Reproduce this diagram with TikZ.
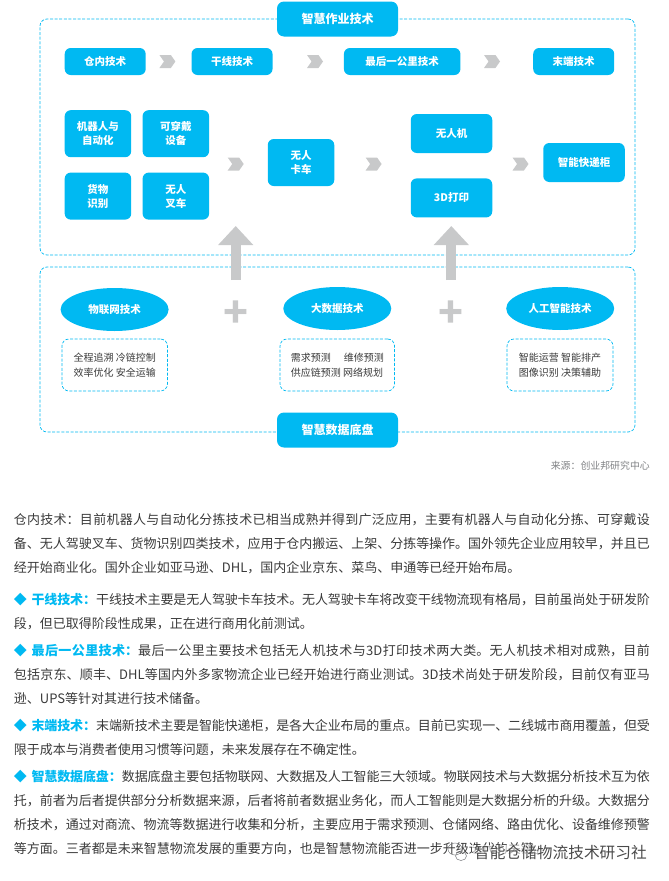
\documentclass[tikz,border=0pt]{standalone}
\usepackage{fontspec}
\usetikzlibrary{arrows.meta,positioning,shapes.geometric,shapes.symbols}
\setmainfont{Noto Sans CJK SC}
\XeTeXlinebreaklocale "zh"
\XeTeXlinebreakskip=0pt plus 1.5pt minus 0.4pt
\tolerance=9999
\definecolor{skyblue}{HTML}{00B9F2}
\definecolor{markgrey}{HTML}{C8C9CA}
\definecolor{sourcegrey}{HTML}{808285}
\definecolor{bodyink}{HTML}{3A3A3A}
\definecolor{stampink}{HTML}{4A4A4A}
\newcommand{\headbullet}[1]{{\color{skyblue}\bfseries ◆\hspace{4.7pt}#1：}}

\begin{document}
\begin{tikzpicture}[
  x=1pt, y=-1pt,
  >=Stealth,
  titlebox/.style={
    fill=skyblue, text=white, rounded corners=7pt, inner sep=0pt,
    minimum width=121pt, minimum height=35pt,
    font=\fontsize{12}{14}\selectfont\bfseries
  },
  techbox/.style 2 args={
    fill=skyblue, text=white, rounded corners=6pt, inner sep=0pt, align=center,
    minimum width=#1, minimum height=#2,
    font=\fontsize{10.5}{14}\selectfont\bfseries
  },
  techoval/.style={
    ellipse, fill=skyblue, text=white, inner sep=0pt,
    minimum width=108pt, minimum height=43pt,
    font=\fontsize{10.5}{14}\selectfont\bfseries
  },
  dashframe/.style 2 args={
    draw=skyblue, dashed, dash pattern=on 3pt off 1.6pt, line width=0.7pt,
    rounded corners=7pt, inner sep=0pt,
    minimum width=#1, minimum height=#2
  },
  listbox/.style={
    dashframe={#1}{52pt}, text=bodyink, align=left,
    font=\fontsize{10}{15.5}\selectfont
  },
  chevronmark/.style={
    signal, signal to=east, signal from=west, signal pointer angle=110,
    fill=markgrey, inner sep=0pt, minimum width=16pt, minimum height=13pt
  },
  uparrow/.style={
    draw=markgrey, line width=10pt,
    -{Triangle[width=34pt,length=19pt,fill=markgrey]}
  },
  plusmark/.style={
    text=markgrey, inner sep=0pt, font=\fontsize{41}{41}\selectfont\bfseries
  },
  paragraph/.style={
    anchor=north west, inner sep=0pt, text width=636pt, align=justify,
    text=bodyink, font=\fontsize{13}{24}\selectfont
  }
]
  \useasboundingbox (0,0) rectangle (669,881);

  % Upper frame and lower frame
  \node[dashframe={595pt}{236pt}] (workframe) at (337.5,137) {};
  \node[dashframe={595pt}{165pt}] (dataframe) at (337.5,349.5) {};
  \node[titlebox] (worktitle) at (337.5,19) {智慧作业技术};
  \node[titlebox] (datatitle) at (337.5,430) {智慧数据底盘};

  % Stages
  \node[techbox={81pt}{27pt}, anchor=west] (warehouse) at (64.5,61.5) {仓内技术};
  \node[techbox={81pt}{27pt}, anchor=west] (trunk) at (191.3,61.5) {干线技术};
  \node[techbox={116.5pt}{27pt}, anchor=west] (lastmile) at (343.7,61.5) {最后一公里技术};
  \node[techbox={81pt}{27pt}, anchor=west] (terminal) at (533,61.5) {末端技术};

  \node[chevronmark] (chev1) at (167.4,61.5) {};
  \node[chevronmark] (chev2) at (315,61.5) {};
  \node[chevronmark] (chev3) at (492,61.5) {};

  % Warehouse grid
  \node[techbox={66.5pt}{47pt}, anchor=north west] (robot) at (64.5,110) {机器人与\\自动化};
  \node[techbox={66.5pt}{47pt}, right=11pt of robot] (wearable) {可穿戴\\设备};
  \node[techbox={66.5pt}{47pt}, below=15pt of robot] (goods) {货物\\识别};
  \node[techbox={66.5pt}{47pt}, right=11pt of goods] (forklift) {无人\\叉车};

  % Trunk, last mile and locker
  \node[techbox={66.5pt}{47pt}] (truck) at (301,162.5) {无人\\卡车};
  \node[techbox={81.5pt}{39pt}] (drone) at (451.5,133.5) {无人机};
  \node[techbox={81.5pt}{39pt}, below=25pt of drone] (print) {3D打印};
  \node[techbox={81.5pt}{39pt}] (locker) at (584,162.5) {智能快递柜};

  \node[chevronmark] (chev4) at (235.7,164) {};
  \node[chevronmark] (chev5) at (373.6,164) {};
  \node[chevronmark] (chev6) at (520.5,164) {};

  % Arrows from the base up
  \coordinate (lift1a) at (235.7,280);
  \coordinate (lift1b) at (235.7,226);
  \coordinate (lift2a) at (451.3,280);
  \coordinate (lift2b) at (451.3,226);
  \draw[uparrow] (lift1a) -- (lift1b);
  \draw[uparrow] (lift2a) -- (lift2b);

  % Data technologies
  \node[techoval] (iot) at (114.6,309.5) {物联网技术};
  \node[techoval] (bigdata) at (337.3,308.5) {大数据技术};
  \node[techoval] (ai) at (560.2,308.5) {人工智能技术};

  \node[plusmark] (plus1) at (235.7,314.5) {+};
  \node[plusmark] (plus2) at (451.3,314.5) {+};

  \node[listbox={105.5pt}] (iotlist) at (114.7,365) {全程追溯 冷链控制\\效率优化 安全运输};
  \node[listbox={114.5pt}] (datalist) at (337.3,365) {需求预测\hspace{13pt}维修预测\\供应链预测 网络规划};
  \node[listbox={106pt}] (ailist) at (560,365) {智能运营 智能排产\\图像识别 决策辅助};

  \node[anchor=east, inner sep=0pt, text=sourcegrey, font=\fontsize{9.9}{12}\selectfont] (source) at (650,466) {来源：创业邦研究中心};

  % Body text
  \node[paragraph] (para1) at (13.7,507) {\strut 仓内技术：目前机器人与自动化分拣技术已相当成熟并得到广泛应用，主要有机器人与自动化分拣、可穿戴设\linebreak 备、无人驾驶叉车、货物识别四类技术，应用于仓内搬运、上架、分拣等操作。国外领先企业应用较早，并且已\linebreak 经开始商业化。国外企业如亚马逊、DHL，国内企业京东、菜鸟、申通等已经开始布局。};
  \node[paragraph] (para2) at (13.7,587) {\strut\headbullet{干线技术}干线技术主要是无人驾驶卡车技术。无人驾驶卡车将改变干线物流现有格局，目前虽尚处于研发阶\linebreak 段，但已取得阶段性成果，正在进行商用化前测试。};
  \node[paragraph] (para3) at (13.7,638) {\strut\headbullet{最后一公里技术}最后一公里主要技术包括无人机技术与3D打印技术两大类。无人机技术相对成熟，目前\linebreak 包括京东、顺丰、DHL等国内外多家物流企业已经开始进行商业测试。3D技术尚处于研发阶段，目前仅有亚马\linebreak 逊、UPS等针对其进行技术储备。};
  \node[paragraph] (para4) at (13.7,713) {\strut\headbullet{末端技术}末端新技术主要是智能快递柜，是各大企业布局的重点。目前已实现一、二线城市商用覆盖，但受\linebreak 限于成本与消费者使用习惯等问题，未来发展存在不确定性。};
  \node[paragraph] (para5) at (13.7,764) {\strut\headbullet{智慧数据底盘}数据底盘主要包括物联网、大数据及人工智能三大领域。物联网技术与大数据分析技术互为依\linebreak 托，前者为后者提供部分分析数据来源，后者将前者数据业务化，而人工智能则是大数据分析的升级。大数据分\linebreak 析技术，通过对商流、物流等数据进行收集和分析，主要应用于需求预测、仓储网络、路由优化、设备维修预警\linebreak 等方面。三者都是未来智慧物流发展的重要方向，也是智慧物流能否进一步升级迭代的关键。};

  % Watermark
  \node[anchor=east, inner sep=1pt, fill=white, fill opacity=0.6, text opacity=1, text=stampink, font=\fontsize{15.7}{18}\selectfont] (stamp) at (648,853) {智能仓储物流技术研习社};
  \node[ellipse, draw=sourcegrey, line width=0.5pt, minimum width=14pt, minimum height=12pt, inner sep=0pt] (bubble1) at (455,849) {};
  \node[ellipse, draw=sourcegrey, line width=0.5pt, minimum width=11pt, minimum height=9pt, inner sep=0pt] (bubble2) at (461,856) {};
\end{tikzpicture}
\end{document}
